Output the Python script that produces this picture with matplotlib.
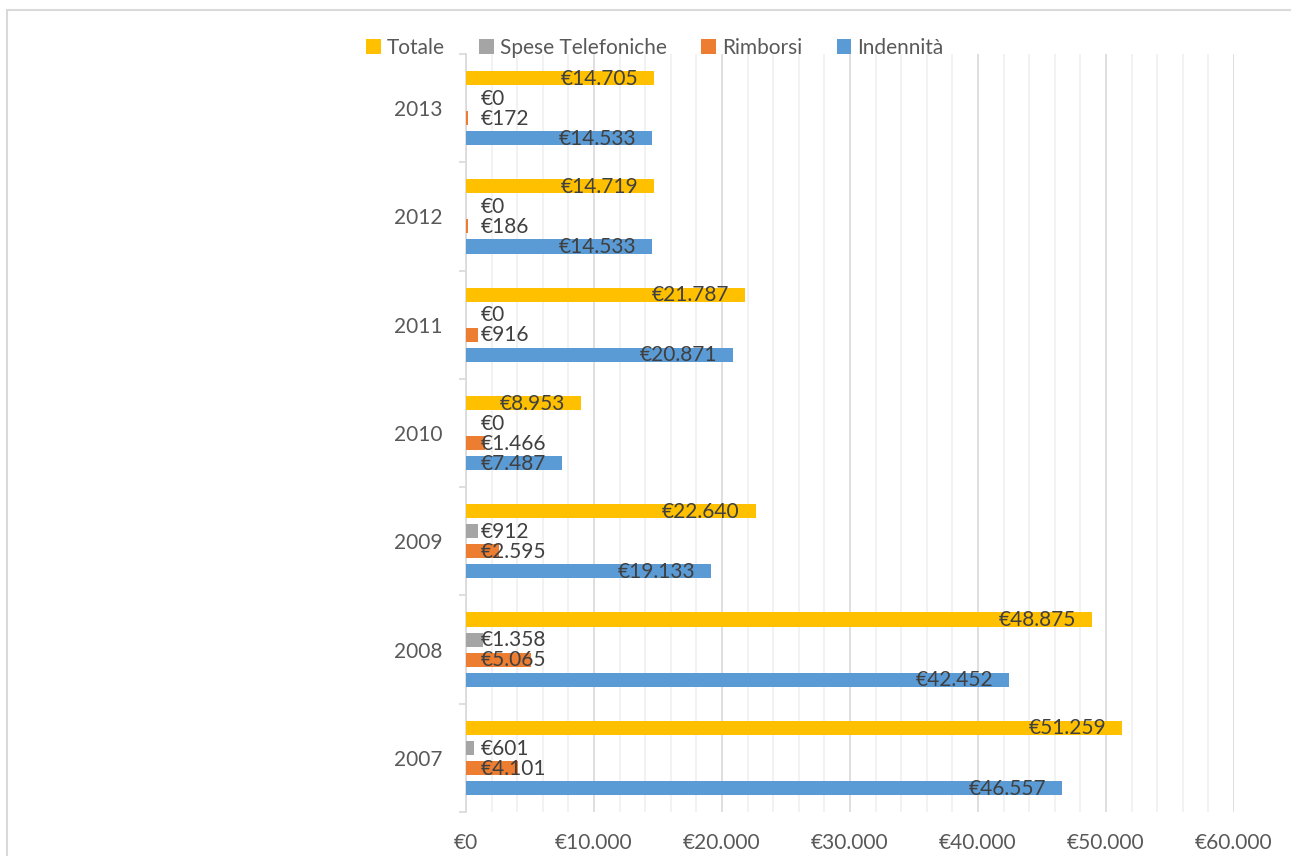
import numpy as np
import matplotlib
matplotlib.use("Agg")
from matplotlib import pyplot as plt
from matplotlib.patches import Rectangle
from matplotlib.ticker import MultipleLocator, FuncFormatter

plt.rcParams['font.family'] = ['Lato', 'DejaVu Sans']

anni = ['2007', '2008', '2009', '2010', '2011', '2012', '2013']
indennita = [46557, 42452, 19133, 7487, 20871, 14533, 14533]
rimborsi = [4101, 5065, 2595, 1466, 916, 186, 172]
spese_tel = [601, 1358, 912, 0, 0, 0, 0]
totale = [51259, 48875, 22640, 8953, 21787, 14719, 14705]

# dall'alto verso il basso dentro ogni gruppo
serie = [
    ('Totale', totale, '#FFC000'),
    ('Spese Telefoniche', spese_tel, '#A5A5A5'),
    ('Rimborsi', rimborsi, '#ED7D31'),
    ('Indennità', indennita, '#5B9BD5'),
]


def euro(v, pos=None):
    return '€' + f'{int(v):,}'.replace(',', '.')


fig = plt.figure(figsize=(12.91, 8.56), dpi=100)
ax = fig.add_axes([466 / 1291, 1 - 812 / 856, 768 / 1291, 758 / 856])

# cornice del grafico
fig.patches.append(Rectangle((7 / 1291, -0.05), 1.1, 1 - 10 / 856 + 0.05,
                             transform=fig.transFigure, fill=False,
                             edgecolor='#d9d9d9', linewidth=1.5))

y = np.arange(len(anni))
slot = 20 / 108
h = 14 / 108
for i, (nome, vals, col) in enumerate(serie):
    yy = y + (1.5 - i) * slot
    ax.barh(yy, vals, height=h, color=col, label=nome, zorder=3)
    for v, yc in zip(vals, yy):
        if v > 7000:
            ax.annotate(euro(v), (v, yc), xytext=(-11.5, -0.5), textcoords='offset points',
                        ha='right', va='center', fontsize=15, color='#404040', zorder=4)
        else:
            ax.annotate(euro(v), (0, yc), xytext=(10.8, -0.5), textcoords='offset points',
                        ha='left', va='center', fontsize=15, color='#404040', zorder=4)

ax.set_xlim(0, 60000)
ax.set_ylim(-0.5, len(anni) - 0.5)
ax.xaxis.set_major_locator(MultipleLocator(10000))
ax.xaxis.set_minor_locator(MultipleLocator(2000))
ax.xaxis.set_major_formatter(FuncFormatter(euro))
ax.grid(axis='x', which='major', color='#d9d9d9', linewidth=1.2, zorder=0)
ax.grid(axis='x', which='minor', color='#f0f0f0', linewidth=1.2, zorder=0)
ax.set_axisbelow(True)

ax.set_yticks(y)
ax.set_yticklabels(anni)
ax.set_yticks(np.arange(-0.5, len(anni)), minor=True)
ax.tick_params(axis='y', which='major', length=0, pad=17, labelsize=15, labelcolor='#595959')
ax.tick_params(axis='y', which='minor', length=5, width=1.2, color='#d9d9d9', direction='out')
ax.tick_params(axis='x', which='both', length=0, pad=15, labelsize=15, labelcolor='#595959')

for s in ['top', 'right', 'bottom']:
    ax.spines[s].set_visible(False)
ax.spines['left'].set_color('#d9d9d9')
ax.spines['left'].set_linewidth(1.2)

fig.legend(loc='center', bbox_to_anchor=(655 / 1291, 1 - 48 / 856), ncol=4, frameon=False,
           fontsize=15, labelcolor='#595959', handlelength=0.7, handleheight=0.7,
           handletextpad=0.3, columnspacing=1.65)

fig.savefig('out.png', dpi=100)
plt.close(fig)
